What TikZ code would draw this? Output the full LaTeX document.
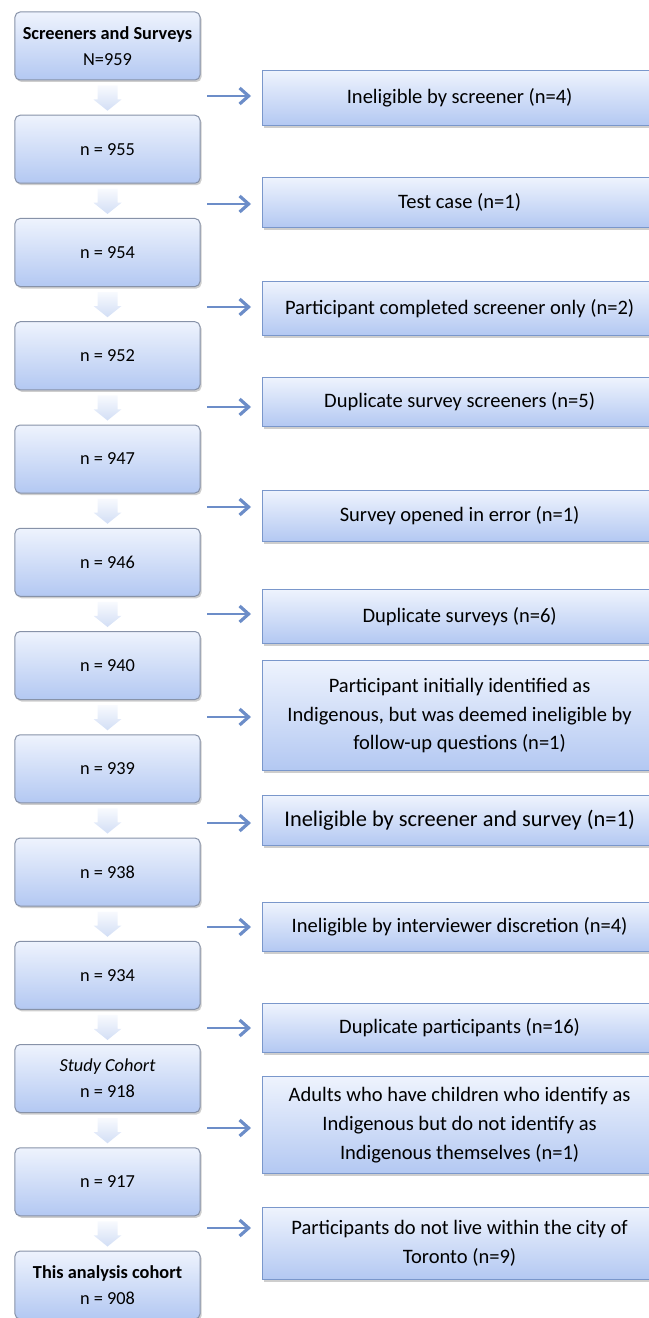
\documentclass[tikz,border=0pt]{standalone}
\usepackage{fontspec}
\setmainfont{Carlito}
\usetikzlibrary{shadows,arrows.meta,calc}
\definecolor{boxtop}{HTML}{EEF3FD}
\definecolor{boxbot}{HTML}{B3C8F2}
\definecolor{lborder}{HTML}{8792A8}
\definecolor{rborder}{HTML}{7A97CB}
\definecolor{arr}{HTML}{6C8DC8}
\definecolor{btop}{HTML}{F8FAFE}
\definecolor{bbot}{HTML}{D2DEF5}
\tikzset{
  boxshadow/.style={drop shadow={shadow xshift=1.5bp, shadow yshift=-2bp, opacity=0.35, fill=black!55}},
  lbox/.style={draw=lborder, line width=1bp, rounded corners=5bp, top color=boxtop, bottom color=boxbot,
    minimum width=185bp, minimum height=68bp, align=center, inner sep=0pt,
    font=\fontsize{18.4}{26}\selectfont, boxshadow},
  rbox/.style={draw=rborder, line width=1.2bp, top color=boxtop, bottom color=boxbot,
    minimum width=394bp, anchor=north west, align=center, inner sep=0pt,
    font=\fontsize{20.6}{29}\selectfont, boxshadow},
  blockarrow/.style={top color=btop, bottom color=bbot, draw=none},
  conn/.style={draw=arr, line width=2bp, -{Straight Barb[length=9bp,width=16bp,line width=3.2bp]}, shorten >=11bp}
}
\begin{document}
\begin{tikzpicture}[x=1bp,y=-1bp]
\useasboundingbox (0,0) rectangle (649,1318);
% left column
\node[lbox] (L1) at (107.5,46) {\textbf{Screeners and Surveys}\\N=959};
\node[lbox] (L2) at (107.5,149.25) {n = 955};
\node[lbox] (L3) at (107.5,252.5) {n = 954};
\node[lbox] (L4) at (107.5,355.75) {n = 952};
\node[lbox] (L5) at (107.5,459) {n = 947};
\node[lbox] (L6) at (107.5,562.25) {n = 946};
\node[lbox] (L7) at (107.5,665.5) {n = 940};
\node[lbox] (L8) at (107.5,768.75) {n = 939};
\node[lbox] (L9) at (107.5,872) {n = 938};
\node[lbox] (L10) at (107.5,975.25) {n = 934};
\node[lbox] (L11) at (107.5,1078.5) {\textit{Study Cohort}\\n = 918};
\node[lbox] (L12) at (107.5,1181.75) {n = 917};
\node[lbox] (L13) at (107.5,1285) {\textbf{This analysis cohort}\\n = 908};
% block arrows
\foreach \a/\b in {1/2,2/3,3/4,4/5,5/6,6/7,7/8,8/9,9/10,10/11,11/12,12/13}{
  \path[blockarrow] ($(L\a.south)+(-10,5)$) -- ($(L\a.south)+(10,5)$) -- ($(L\a.south)+(10,19)$)
    -- ($(L\a.south)+(14,19)$) -- ($(L\b.north)+(0,-4)$) -- ($(L\a.south)+(-14,19)$)
    -- ($(L\a.south)+(-10,19)$) -- cycle;
}
% right column
\node[rbox, minimum height=55bp] (R1) at (262,70) {Ineligible by screener (n=4)};
\node[rbox, minimum height=50bp] (R2) at (262,177) {Test case (n=1)};
\node[rbox, minimum height=54bp] (R3) at (262,281) {Participant completed screener only (n=2)};
\node[rbox, minimum height=49bp] (R4) at (262,377) {Duplicate survey screeners (n=5)};
\node[rbox, minimum height=51bp] (R5) at (262,490) {Survey opened in error (n=1)};
\node[rbox, minimum height=54bp] (R6) at (262,589) {Duplicate surveys (n=6)};
\node[rbox, minimum height=110bp] (R7) at (262,660) {Participant initially identified as\\Indigenous, but was deemed ineligible by\\follow-up questions (n=1)};
\node[rbox, minimum height=50bp, font=\fontsize{22.5}{30}\selectfont] (R8) at (262,795) {Ineligible by screener and survey (n=1)};
\node[rbox, minimum height=49bp] (R9) at (262,902) {Ineligible by interviewer discretion (n=4)};
\node[rbox, minimum height=49bp] (R10) at (262,1003) {Duplicate participants (n=16)};
\node[rbox, minimum height=97bp] (R11) at (262,1076) {Adults who have children who identify as\\Indigenous but do not identify as\\Indigenous themselves (n=1)};
\node[rbox, minimum height=72bp] (R12) at (262,1207) {Participants do not live within the city of\\Toronto (n=9)};
% connectors
\coordinate (a1) at (207,96);
\coordinate (a2) at (207,204);
\coordinate (a3) at (207,307);
\coordinate (a4) at (207,407);
\coordinate (a5) at (207,507);
\coordinate (a6) at (207,614);
\coordinate (a7) at (207,717);
\coordinate (a8) at (207,823);
\coordinate (a9) at (207,927);
\coordinate (a10) at (207,1028);
\coordinate (a11) at (207,1128);
\coordinate (a12) at (207,1228);
\foreach \i in {1,...,12}{
  \draw[conn] (a\i) -- (a\i -| R\i.west);
}
\end{tikzpicture}
\end{document}
